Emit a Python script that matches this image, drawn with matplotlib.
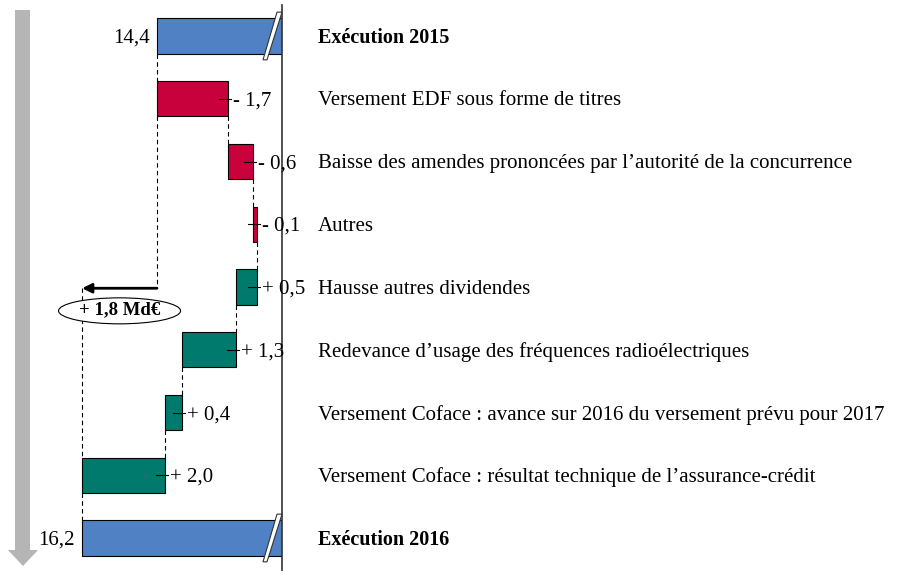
import matplotlib.pyplot as plt
from matplotlib.patches import Ellipse, Polygon

plt.rcParams['font.family'] = ['Liberation Serif', 'DejaVu Serif']

# données (Md€)
start_label = 'Exécution 2015'
end_label = 'Exécution 2016'
start_value = 14.4
end_value = 16.2
steps = ['Versement EDF sous forme de titres',
         'Baisse des amendes prononcées par l\u2019autorité de la concurrence',
         'Autres',
         'Hausse autres dividendes',
         'Redevance d\u2019usage des fréquences radioélectriques',
         'Versement Coface : avance sur 2016 du versement prévu pour 2017',
         'Versement Coface : résultat technique de l\u2019assurance-crédit']
deltas = [-1.7, -0.6, -0.1, 0.5, 1.3, 0.4, 2.0]

blue = '#4f81c4'
red = '#c8003c'
teal = '#007a6c'
fs = 15
px = 41.6  # pixels par Md€

fig = plt.figure(figsize=(8.97, 5.71), dpi=100)
ax = fig.add_axes([0, 0, 282 / 897, 1])
x_edge = 11.395
ax.set_xlim(x_edge + 282 / px, x_edge)
ax.set_ylim((571 - 36) / 62.75, -36 / 62.75)
ax.axis('off')
h = 0.56
n = len(deltas)

def fmt(v):
    return ('%.1f' % v).replace('.', ',')

def label(row, txt, bold=False):
    ax.annotate(txt, xy=(1, row), xycoords=('axes fraction', 'data'),
                xytext=(36 * 0.72, -1.5), textcoords='offset points',
                va='center', ha='left', fontsize=fs - 0.5 if bold else fs,
                fontweight='bold' if bold else 'normal', annotation_clip=False)

# barres de total
for row, v in [(0, start_value), (n + 1, end_value)]:
    ax.barh(row, v, height=h, color=blue, edgecolor='black', linewidth=0.8)
    ax.annotate(fmt(v), xy=(v, row), xytext=(-5, -1.5), textcoords='offset points',
                ha='right', va='center', fontsize=fs)
    # marque de coupure
    yb, yt = row + 0.38, row - 0.38
    pts = [(x_edge + 19 / px, yb), (x_edge + 15 / px, yb),
           (x_edge + 0 / px, yt), (x_edge + 5 / px, yt)]
    ax.add_patch(Polygon(pts, closed=True, facecolor='white', edgecolor='#333333',
                         linewidth=0.8, clip_on=False, zorder=5))
label(0, start_label, bold=True)
label(n + 1, end_label, bold=True)

# barres de variation
total = start_value
for i, d in enumerate(deltas):
    row = i + 1
    new = total + d
    ax.barh(row, d, left=total, height=h, color=red if d < 0 else teal,
            edgecolor='black', linewidth=0.8)
    edge = min(total, new)
    ax.plot([edge + 9 / px, edge - 3 / px], [row, row], color='black', lw=0.8,
            clip_on=False)
    ax.annotate(('+ ' if d > 0 else '- ') + fmt(abs(d)), xy=(edge, row),
                xytext=(5 * 0.72, -1.5), textcoords='offset points',
                ha='left', va='center', fontsize=fs)
    label(row, steps[i])
    total = new

# lignes de liaison pointillées
levels = [start_value]
for d in deltas:
    levels.append(levels[-1] + d)
for i, v in enumerate(levels):
    ax.plot([v, v], [i + h / 2, i + 1 - h / 2], color='black', lw=0.8,
            ls=(0, (4, 3)))

arrow_row = 4.02
ax.plot([start_value, start_value], [1 + h / 2, arrow_row], color='black', lw=0.8,
        ls=(0, (4, 3)))
ax.plot([end_value, end_value], [arrow_row, n - h / 2], color='black', lw=0.8,
        ls=(0, (4, 3)))
ax.annotate('', xy=(end_value, arrow_row), xytext=(start_value, arrow_row),
            arrowprops=dict(arrowstyle='-|>', lw=2, color='black',
                            shrinkA=0, shrinkB=0, mutation_scale=14))

diff = end_value - start_value
cx = (start_value + end_value) / 2
ax.add_patch(Ellipse((cx, 4.38), 122 / px, 26 / 62.75, facecolor='white',
                     edgecolor='black', linewidth=0.8, zorder=4))
ax.text(cx, 4.37, '+ ' + fmt(diff) + ' Md€', ha='center', va='center',
        fontsize=13.5, fontweight='bold', zorder=6)

# axe vertical
ax.plot([x_edge, x_edge], [-0.5, 8.52], color='#333333', lw=1.2, clip_on=False)

# flèche grise à gauche
arrow = [(15, 561), (30, 561), (30, 21), (38, 21), (23, 5), (8, 21), (15, 21)]
fig.patches.append(Polygon([(x / 100, y / 100) for x, y in arrow], closed=True,
                           facecolor='#b5b5b5', edgecolor='none',
                           transform=fig.dpi_scale_trans))

fig.savefig('out.png', dpi=100)
